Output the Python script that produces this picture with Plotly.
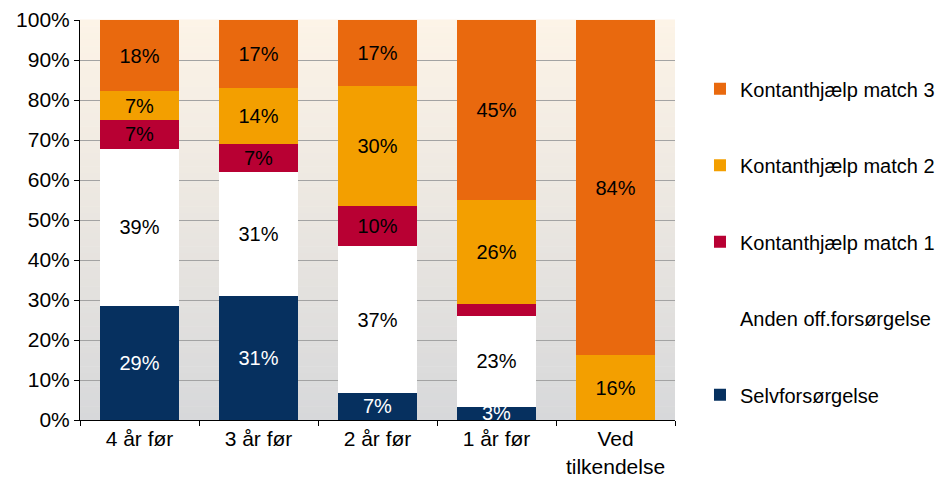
import plotly.graph_objects as go

categories = ["4 år før", "3 år før", "2 år før", "1 år før", "Ved<br>tilkendelse"]

selv = [28.6, 31.0, 6.8, 3.3, 0.0]
anden = [39.2, 31.0, 36.6, 22.7, 0.0]
km1 = [7.2, 7.0, 10.0, 3.0, 0.0]
km2 = [7.2, 14.0, 30.0, 26.0, 16.2]
km3 = [17.8, 17.0, 16.6, 45.0, 83.8]

series = [
    ("Selvforsørgelse", selv, "#06305F", "white", [True, True, True, True, False]),
    ("Anden off.forsørgelse", anden, "#FFFFFF", "black", [True, True, True, True, False]),
    ("Kontanthjælp match 1", km1, "#B80033", "black", [True, True, True, False, False]),
    ("Kontanthjælp match 2", km2, "#F39F00", "black", [True, True, True, True, True]),
    ("Kontanthjælp match 3", km3, "#E9690E", "black", [True, True, True, True, True]),
]

FONT = "Liberation Sans, Arial, sans-serif"
FS = 20
FT = 21
FL = 20

fig = go.Figure()
for i, (name, vals, color, tcolor, show) in enumerate(series):
    texts = [f"{round(v)}%" if s else "" for v, s in zip(vals, show)]
    fig.add_trace(go.Bar(
        name=name, x=categories, y=vals, marker=dict(color=color, line=dict(width=0)),
        text=texts, textposition="inside", insidetextanchor="middle",
        textfont=dict(color=tcolor, size=FS, family=FONT),
        legendgroup=str(i), legendrank=10 - i, cliponaxis=True, hoverinfo="skip",
    ))

# gradient background bands
shapes = []
n = 60
top = (253, 244, 231)
bot = (215, 216, 218)
for k in range(n):
    t = (k + 0.5) / n
    c = tuple(round(top[j] + (bot[j] - top[j]) * t) for j in range(3))
    shapes.append(dict(type="rect", xref="paper", yref="paper", x0=0, x1=1,
                       y0=1 - (k + 1) / n, y1=1 - k / n + 0.001,
                       fillcolor=f"rgb{c}", line=dict(width=0), layer="below"))

fig.update_layout(
    barmode="stack", bargap=0.33,
    width=948, height=481,
    margin=dict(l=72, r=281, t=12, b=69, autoexpand=False),
    paper_bgcolor="white", plot_bgcolor="rgba(0,0,0,0)",
    shapes=shapes,
    font=dict(family=FONT, size=FT, color="black"),
    uniformtext=dict(minsize=FS, mode="show"),
    legend=dict(traceorder="grouped", tracegroupgap=47.5,
                x=1.042, y=0.877, xanchor="left", yanchor="top",
                font=dict(size=FL, family=FONT), itemwidth=30,
                bgcolor="rgba(0,0,0,0)"),
    showlegend=True,
)
fig.update_yaxes(range=[0, 100], tickvals=list(range(0, 101, 10)),
                 ticktext=[f"{v}%" for v in range(0, 101, 10)],
                 showgrid=True, gridcolor="#A3A3A3", gridwidth=1,
                 showline=True, linecolor="black", linewidth=1,
                 ticks="outside", ticklen=5, tickcolor="black",
                 zeroline=False, tickfont=dict(size=FT), automargin=False)
fig.update_xaxes(showline=True, linecolor="black", linewidth=1,
                 ticks="outside", ticklen=5, tickcolor="black",
                 tickson="boundaries", showgrid=False,
                 tickfont=dict(size=FT), automargin=False)

fig.write_html("out.html")
